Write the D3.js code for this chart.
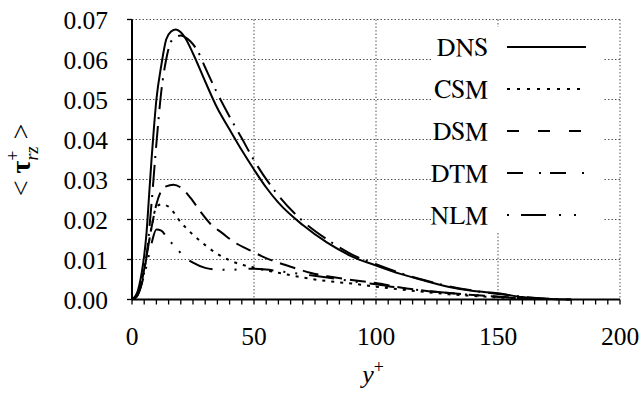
<!DOCTYPE html>
<html><head><meta charset="utf-8">
<script src="https://d3js.org/d3.v7.min.js"></script>
</head>
<body style="margin:0">
<svg id="chart" width="643" height="398"></svg>
<script>
// ---- data ----
const xTicks = [0, 50, 100, 150, 200];
const yTicks = [0.00, 0.01, 0.02, 0.03, 0.04, 0.05, 0.06, 0.07];
const xMinorTicks = d3.range(0, 201, 5);

const dnsX = [0, 2, 4, 5, 6, 7, 8, 9, 10, 12, 14, 16, 18, 20, 22, 25, 30, 35, 40, 45, 50, 55, 60, 70, 80, 90, 100, 110, 120, 130, 140, 150, 160, 170, 180];
const dnsY = [0, 0.0015, 0.0068, 0.011, 0.017, 0.026, 0.035, 0.043, 0.050, 0.0585, 0.065, 0.067, 0.0675, 0.0668, 0.0652, 0.0615, 0.0545, 0.0478, 0.0425, 0.0373, 0.0325, 0.028, 0.0242, 0.0186, 0.0142, 0.0108, 0.0085, 0.0064, 0.0047, 0.0031, 0.0021, 0.00155, 0.0006, 0.0002, 0];

const csmX = [0, 2, 4, 6, 8, 10, 12, 15, 20, 25, 30, 35, 40, 45, 50, 55, 60, 70, 80, 90, 100, 110, 120, 130, 140, 150, 160];
const csmY = [0, 0.001, 0.005, 0.011, 0.018, 0.0232, 0.0238, 0.0232, 0.0193, 0.0162, 0.0136, 0.0114, 0.0098, 0.0087, 0.0080, 0.0073, 0.0067, 0.0055, 0.0046, 0.0040, 0.0032, 0.0025, 0.0019, 0.0013, 0.0009, 0.0005, 0.0002];

const dsmX = [0, 2, 4, 6, 8, 10, 12, 14, 17, 20, 24, 28, 32, 37, 42, 49, 54, 60, 66, 73, 80, 90, 100, 110, 120, 130, 140, 150, 160, 170];
const dsmY = [0, 0.001, 0.0045, 0.011, 0.018, 0.0238, 0.0272, 0.0283, 0.0287, 0.028, 0.0254, 0.022, 0.019, 0.0166, 0.0143, 0.0121, 0.0106, 0.0092, 0.0080, 0.0067, 0.0058, 0.0049, 0.0041, 0.0030, 0.0022, 0.0016, 0.0011, 0.0007, 0.0003, 0.0001];

const dtmX = [0, 2, 4, 6, 8, 10, 12, 14, 16, 18, 20, 22, 24, 27, 30, 35, 40, 45, 50, 60, 70, 80, 90, 100, 110, 120, 130, 140, 150, 160, 170, 180];
const dtmY = [0, 0.0008, 0.004, 0.011, 0.024, 0.039, 0.052, 0.060, 0.0645, 0.0656, 0.066, 0.0655, 0.0645, 0.062, 0.058, 0.0515, 0.0457, 0.0403, 0.0348, 0.026, 0.0196, 0.0150, 0.0113, 0.0088, 0.0066, 0.0048, 0.0033, 0.0022, 0.0014, 0.0007, 0.0002, 0];

const nlmX = [0, 2, 4, 6, 8, 10, 12, 14, 16, 18, 21, 25, 30, 35, 40, 45, 50, 55, 60, 70, 80, 90, 100, 110, 120, 130, 140, 150, 160, 170];
const nlmY = [0, 0.0008, 0.004, 0.0085, 0.014, 0.0175, 0.0172, 0.0158, 0.0143, 0.013, 0.0109, 0.0092, 0.0079, 0.0075, 0.0074, 0.0076, 0.0077, 0.0075, 0.0071, 0.0063, 0.0055, 0.0046, 0.0038, 0.0029, 0.0022, 0.0016, 0.0011, 0.0007, 0.0003, 0.0001];

const seriesNames = ["DNS", "CSM", "DSM", "DTM", "NLM"];
const seriesXs = [dnsX, csmX, dsmX, dtmX, nlmX];
const seriesYs = [dnsY, csmY, dsmY, dtmY, nlmY];

// ---- styles ----
const plotDash = ["", "3,6", "16,8", "22,7,2,8", "25,10,2,10,2,12"];
const legendDash = ["", "3,7", "12,19", "16,16,2,9", "2,12,25,13,2,13,2,12"];

const svg = d3.select("#chart");
const L = 132, R = 620, T = 19.5, B = 299.5;
const x = d3.scaleLinear().domain([0, 200]).range([L, R]);
const y = d3.scaleLinear().domain([0, 0.07]).range([B, T]);

// grid
const grid = svg.append("g").attr("stroke", "#555").attr("stroke-width", 1).attr("stroke-dasharray", "1.5,2");
grid.selectAll("line.h").data(yTicks.slice(1)).join("line")
  .attr("x1", L).attr("x2", R).attr("y1", d => y(d)).attr("y2", d => y(d));
grid.selectAll("line.v").data(xTicks.slice(1)).join("line")
  .attr("x1", d => x(d)).attr("x2", d => x(d)).attr("y1", T).attr("y2", B);

// legend background
svg.append("rect").attr("x", 432).attr("y", 27).attr("width", 171).attr("height", 205).attr("fill", "#fff");

// curves
const line = d3.line().x(d => x(d[0])).y(d => y(d[1])).curve(d3.curveMonotoneX);
seriesNames.forEach((n, i) => {
  const pts = seriesXs[i].map((xv, j) => [xv, seriesYs[i][j]]);
  svg.append("path").datum(pts).attr("d", line)
    .attr("fill", "none").attr("stroke", "#000").attr("stroke-width", 2)
    .attr("stroke-dasharray", plotDash[i] || null);
});

// axes (drawn from the scales)
const ax = svg.append("g").attr("stroke", "#000");
ax.selectAll("line.xt").data(xMinorTicks).join("line")
  .attr("x1", d => x(d)).attr("x2", d => x(d)).attr("y1", B).attr("y2", B + 5).attr("stroke-width", 1.3);
ax.selectAll("line.yt").data(yTicks).join("line")
  .attr("x1", L - 5).attr("x2", L).attr("y1", d => y(d)).attr("y2", d => y(d)).attr("stroke-width", 1.3);
ax.append("line").attr("x1", x(0)).attr("x2", x(200)).attr("y1", B).attr("y2", B).attr("stroke-width", 2);
ax.append("line").attr("x1", L).attr("x2", L).attr("y1", y(0)).attr("y2", y(0.07)).attr("stroke-width", 2);

// tick labels
svg.append("g").selectAll("text").data(xTicks).join("text")
  .attr("x", d => x(d)).attr("y", 345).attr("text-anchor", "middle")
  .attr("font-family", "Times New Roman").attr("font-size", 25.5).text(d => d);
svg.append("g").selectAll("text").data(yTicks).join("text")
  .attr("x", 108).attr("y", d => y(d) + 9).attr("text-anchor", "end")
  .attr("font-family", "Liberation Serif").attr("font-size", 25.5).text(d => d.toFixed(2));

// axis titles
const xt = svg.append("text").attr("x", 373).attr("y", 383).attr("text-anchor", "middle")
  .attr("font-family", "Tinos").attr("font-size", 26);
xt.append("tspan").attr("font-style", "italic").text("y");
xt.append("tspan").attr("dy", -10).attr("font-size", 18).text("+");

const yt = svg.append("text").attr("transform", "translate(30,160) rotate(-90)")
  .attr("text-anchor", "middle").attr("font-family", "Nimbus Roman").attr("font-size", 28);
yt.append("tspan").text("< ");
yt.append("tspan").attr("font-weight", "bold").text("τ");
yt.append("tspan").attr("dy", -11).attr("font-size", 18).text("+");
yt.append("tspan").attr("dx", -10).attr("dy", 19).attr("font-size", 18).attr("font-style", "italic").text("rz");
yt.append("tspan").attr("dy", -8).text(" >");

// legend
const ly0 = 47, ldy = 42;
seriesNames.forEach((n, i) => {
  const cy = ly0 + i * ldy;
  svg.append("text").attr("x", 488).attr("y", cy + 8.5).attr("text-anchor", "end")
    .attr("font-family", "FreeSerif").attr("font-size", 26).text(n);
  svg.append("line").attr("x1", 507).attr("x2", 586).attr("y1", cy).attr("y2", cy)
    .attr("stroke", "#000").attr("stroke-width", 2)
    .attr("stroke-dasharray", legendDash[i] || null);
});
</script>
</body></html>
